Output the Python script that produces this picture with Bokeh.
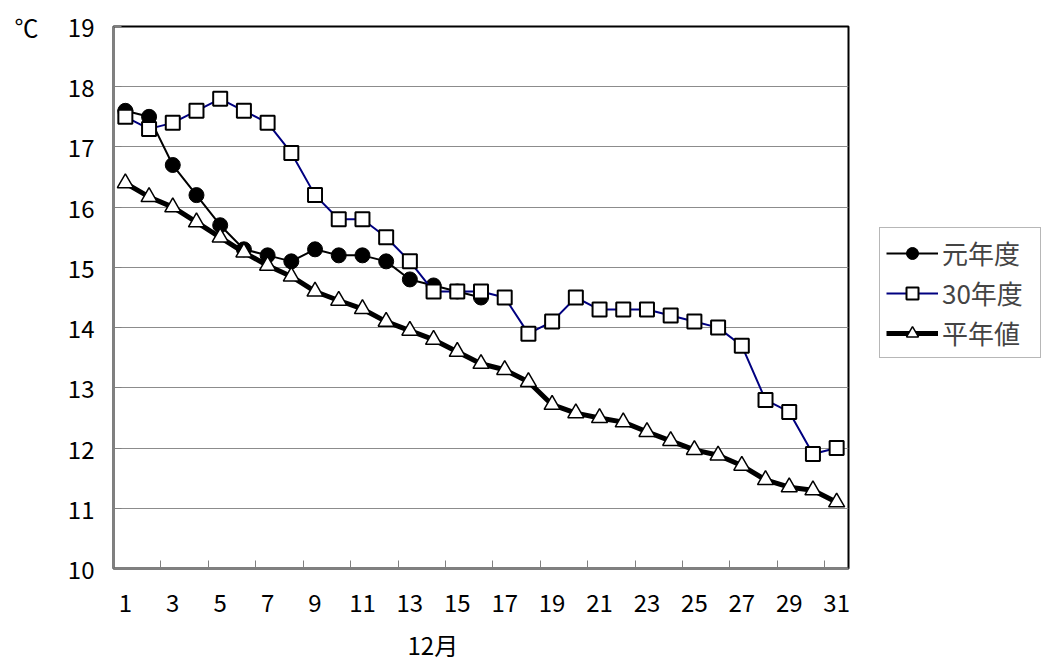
from bokeh.plotting import figure
from bokeh.models import Range1d, FixedTicker, Legend, LegendItem, Title
from bokeh.embed import file_html
from bokeh.resources import INLINE

FONT = "Noto Sans CJK JP"

days = list(range(1, 32))
reiwa1 = [17.6, 17.5, 16.7, 16.2, 15.7, 15.3, 15.2, 15.1, 15.3, 15.2,
          15.2, 15.1, 14.8, 14.7, 14.6, 14.5]
h30 = [17.5, 17.3, 17.4, 17.6, 17.8, 17.6, 17.4, 16.9, 16.2, 15.8,
       15.8, 15.5, 15.1, 14.6, 14.6, 14.6, 14.5, 13.9, 14.1, 14.5,
       14.3, 14.3, 14.3, 14.2, 14.1, 14.0, 13.7, 12.8, 12.6, 11.9, 12.0]
normal = [16.4, 16.17, 16.0, 15.75, 15.5, 15.25, 15.03, 14.85, 14.6, 14.45,
          14.31, 14.1, 13.95, 13.8, 13.6, 13.4, 13.3, 13.1, 12.72, 12.58,
          12.5, 12.43, 12.27, 12.12, 11.97, 11.88, 11.71, 11.47, 11.35, 11.3,
          11.1]
x_labels = [str(d) for d in range(1, 32, 2)]
y_ticks = list(range(10, 20))
labels = ["元年度", "30年度", "平年値"]
unit_text = "℃"
month_text = "12月"

p = figure(output_backend="svg", toolbar_location=None,
           frame_width=735, frame_height=542,
           min_border_left=113, min_border_right=192,
           min_border_top=26, min_border_bottom=92,
           x_range=Range1d(0.5, 31.5), y_range=Range1d(10, 19))
p.background_fill_color = "white"
p.border_fill_color = "white"
p.outline_line_color = "black"
p.outline_line_width = 2

# x axis
p.xaxis.ticker = FixedTicker(ticks=list(range(1, 32, 2)),
                             minor_ticks=[2.5 + 2 * k for k in range(15)])
p.xaxis.major_label_overrides = {int(l): l for l in x_labels}
p.xaxis.major_tick_line_color = None
p.xaxis.minor_tick_in = 8
p.xaxis.minor_tick_out = 0
p.xaxis.minor_tick_line_color = "#808080"
p.xaxis.minor_tick_line_width = 1
p.xaxis.axis_line_color = "#808080"
p.xaxis.axis_line_width = 2
p.xaxis.major_label_standoff = 19
p.xaxis.major_label_text_font = FONT
p.xaxis.major_label_text_font_size = "24px"
p.xaxis.major_label_text_color = "black"

# y axis
p.yaxis.ticker = FixedTicker(ticks=y_ticks)
p.yaxis.major_label_overrides = {19: unit_text + "\u3000 19"}
p.yaxis.major_tick_in = 8
p.yaxis.major_tick_out = 0
p.yaxis.major_tick_line_color = "#808080"
p.yaxis.minor_tick_line_color = None
p.yaxis.axis_line_color = "#808080"
p.yaxis.axis_line_width = 2
p.yaxis.major_label_standoff = 19
p.yaxis.major_label_text_font = FONT
p.yaxis.major_label_text_font_size = "24px"
p.yaxis.major_label_text_color = "black"

p.xgrid.grid_line_color = None
p.ygrid.ticker = FixedTicker(ticks=y_ticks)
p.ygrid.grid_line_color = "#8c8c8c"
p.ygrid.grid_line_width = 1

# series
l1 = p.line(days[:len(reiwa1)], reiwa1, line_color="black", line_width=2)
m1 = p.scatter(days[:len(reiwa1)], reiwa1, marker="circle", size=15,
               fill_color="black", line_color="black")
l2 = p.line(days, h30, line_color="#000080", line_width=2)
m2 = p.scatter(days, h30, marker="square", size=14, fill_color="white",
               line_color="black", line_width=2)
l3 = p.line(days, normal, line_color="black", line_width=5)
m3 = p.scatter(days, normal, marker="triangle", size=16, fill_color="white",
               line_color="black", line_width=1.5)

legend = Legend(items=[LegendItem(label=labels[0], renderers=[l1, m1]),
                       LegendItem(label=labels[1], renderers=[l2, m2]),
                       LegendItem(label=labels[2], renderers=[l3, m3])],
                location=(31, 210))
legend.label_text_font = FONT
legend.label_text_font_size = "26px"
legend.glyph_width = 52
legend.glyph_height = 30
legend.label_height = 30
legend.label_width = 92
legend.spacing = 3
legend.padding = 6
legend.margin = 0
legend.label_standoff = 4
legend.border_line_color = "#707070"
legend.border_line_width = 1
legend.background_fill_color = "white"
legend.background_fill_alpha = 1
p.add_layout(legend, "right")

month = Title(text=month_text, align="left", offset=294, standoff=21,
              text_font=FONT, text_font_size="24px", text_font_style="normal",
              text_color="black")
p.add_layout(month, "below")

open("out.html", "w").write(file_html(p, INLINE))
